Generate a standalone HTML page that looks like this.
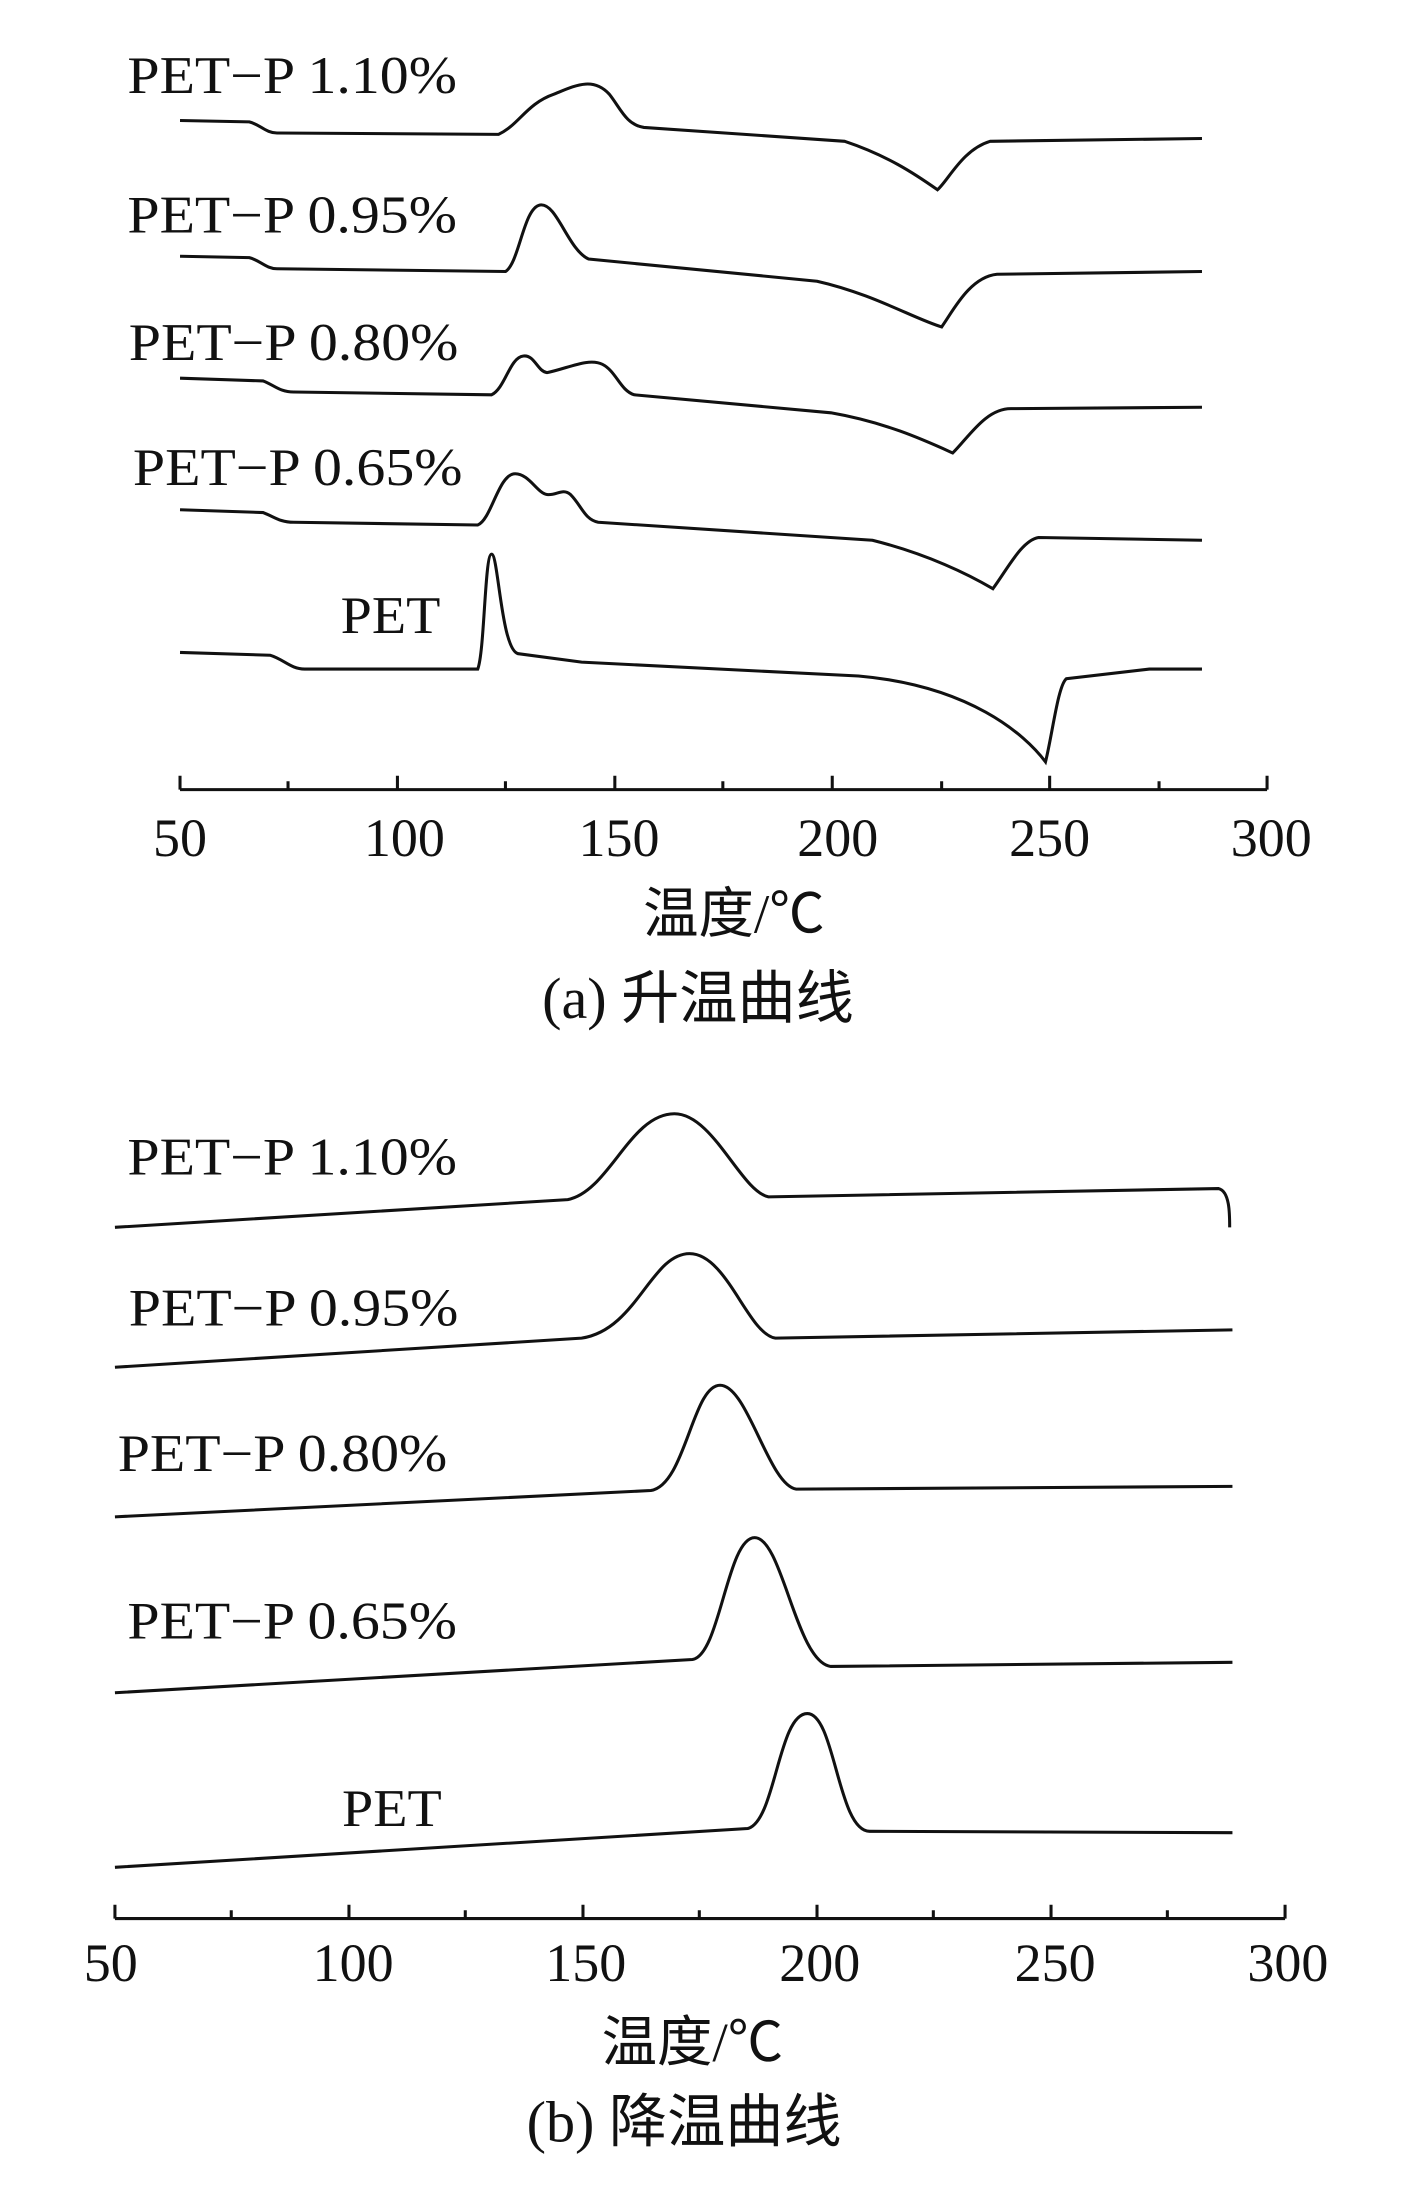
<!DOCTYPE html>
<html><head><meta charset="utf-8"><style>html,body{margin:0;padding:0;background:#fff}svg{display:block}</style></head>
<body>
<svg width="1418" height="2197" viewBox="0 0 1024 1586" preserveAspectRatio="none" xmlns="http://www.w3.org/2000/svg">
<g font-family="'Liberation Serif','Noto Serif CJK SC',serif" font-size="38" fill="#111">
<text x="92" y="67" textLength="238" lengthAdjust="spacingAndGlyphs">PET−P 1.10%</text>
<text x="92" y="168" textLength="238" lengthAdjust="spacingAndGlyphs">PET−P 0.95%</text>
<text x="93" y="260" textLength="238" lengthAdjust="spacingAndGlyphs">PET−P 0.80%</text>
<text x="96" y="350" textLength="238" lengthAdjust="spacingAndGlyphs">PET−P 0.65%</text>
<text x="246" y="457" textLength="72" lengthAdjust="spacingAndGlyphs">PET</text>
<text x="92" y="848" textLength="238" lengthAdjust="spacingAndGlyphs">PET−P 1.10%</text>
<text x="93" y="957" textLength="238" lengthAdjust="spacingAndGlyphs">PET−P 0.95%</text>
<text x="85" y="1062" textLength="238" lengthAdjust="spacingAndGlyphs">PET−P 0.80%</text>
<text x="92" y="1183" textLength="238" lengthAdjust="spacingAndGlyphs">PET−P 0.65%</text>
<text x="247" y="1318" textLength="72" lengthAdjust="spacingAndGlyphs">PET</text>
<g text-anchor="middle" font-size="39">
<text x="130" y="618">50</text><text x="292" y="618">100</text><text x="447" y="618">150</text><text x="605" y="618">200</text><text x="758" y="618">250</text><text x="918" y="618">300</text>
<text x="80" y="1430">50</text><text x="255" y="1430">100</text><text x="423" y="1430">150</text><text x="592" y="1430">200</text><text x="762" y="1430">250</text><text x="930" y="1430">300</text>
</g>
<g text-anchor="middle" font-family="'Liberation Serif','Noto Sans CJK SC',sans-serif">
<text x="530" y="673" font-size="40">温度/℃</text>
<text x="504" y="735" font-size="42">(a) 升温曲线</text>
<text x="500" y="1488" font-size="40">温度/℃</text>
<text x="494" y="1546" font-size="42">(b) 降温曲线</text>
</g>
</g>
<g stroke="#111" stroke-width="2.2" fill="none">
<path d="M130 570H915"/>
<path d="M130 570v-10M287 570v-10M444 570v-10M601 570v-10M758 570v-10M915 570v-10M208 570v-6M365 570v-6M522 570v-6M680 570v-6M837 570v-6"/>
<path d="M83 1385H928"/>
<path d="M83 1385v-10M252 1385v-10M421 1385v-10M590 1385v-10M759 1385v-10M928 1385v-10M167 1385v-6M336 1385v-6M505 1385v-6M674 1385v-6M843 1385v-6"/>
<path d="M130 87L180 88C188 90 192 96 200 96L360 97C375 90 380 75 400 68C415 62 428 55 440 68C448 78 452 90 465 92L610 102C640 112 660 125 677 137C685 130 695 108 715 102L868 100"/>
<path d="M130 185L180 186C188 188 192 194 200 194L365 196C375 190 378 150 390 148C402 146 410 180 425 187L590 203C630 212 660 230 680 236C688 225 700 200 720 198L868 196"/>
<path d="M130 273L190 275C198 278 202 283 212 283L355 285C365 280 368 258 378 257C386 256 388 268 395 269C410 266 425 258 435 263C445 268 448 282 458 285L600 298C640 305 668 318 688 327C700 315 712 295 730 295L868 294"/>
<path d="M130 368L190 370C198 373 202 377 212 377L345 379C355 375 360 342 372 342C382 342 388 356 395 357C402 358 406 352 412 357C420 365 422 375 432 377L630 390C670 400 700 415 717 425C728 410 738 390 750 388L868 390"/>
<path d="M130 471L195 473C205 476 210 483 220 483L345 483C350 470 350 400 355 400C360 400 362 472 375 472L420 478L620 488C700 495 740 530 755 550C760 530 764 495 770 490L830 483L868 483"/>
<path d="M83 886L410 866C440 860 455 804 487 804C515 804 535 860 555 864L880 858C888 860 888 876 888 886"/>
<path d="M83 987L420 966C460 960 470 905 498 905C525 905 540 963 560 966L890 960"/>
<path d="M83 1095L470 1076C495 1072 500 1000 520 1000C540 1000 555 1072 575 1075L890 1073"/>
<path d="M83 1222L500 1198C520 1195 525 1110 545 1110C565 1110 575 1200 600 1203L890 1200"/>
<path d="M83 1348L540 1320C560 1315 562 1237 583 1237C603 1237 605 1322 628 1322L890 1323"/>
</g>
</svg>
</body></html>
